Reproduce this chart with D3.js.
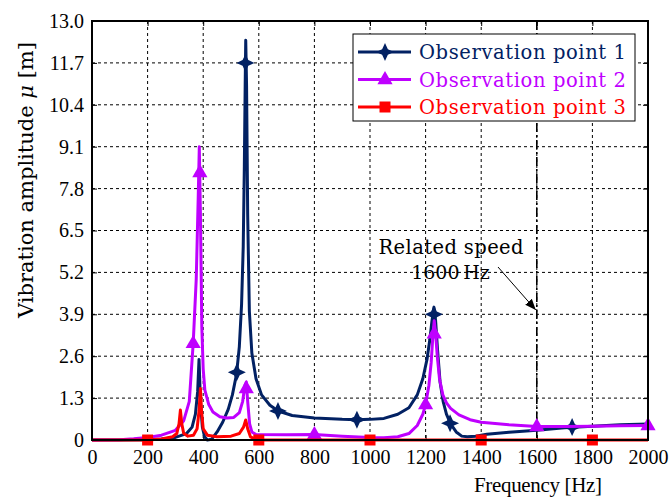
<!DOCTYPE html>
<html><head><meta charset="utf-8">
<script src="https://cdn.jsdelivr.net/npm/d3@7"></script>
<style>body{margin:0;background:#fff}svg{display:block}text{font-family:"Liberation Serif","Times New Roman",serif}.dv{font-family:"DejaVu Serif",serif}</style>
</head><body><svg id="c" width="672" height="498"></svg>
<script>
const xTicks = [0,200,400,600,800,1000,1200,1400,1600,1800,2000];
const yTicks = [0,1.3,2.6,3.9,5.2,6.5,7.8,9.1,10.4,11.7,13.0];
const yTickLabels = ["0","1.3","2.6","3.9","5.2","6.5","7.8","9.1","10.4","11.7","13.0"];
const seriesNames = ["Observation point 1","Observation point 2","Observation point 3"];
const seriesColors = ["#022163","#bf00ff","#ff0000"];

const freq1 = [0,100,200,250,300,340,360,372,380,385,390,397,405,415,430,450,470,490,505,520,530,538,544,548,551,553,556,560,566,575,590,610,640,670,720,800,900,953,1000,1050,1100,1140,1170,1190,1205,1215,1223,1230,1236,1243,1252,1263,1275,1290,1310,1330,1350,1380,1420,1500,1600,1700,1800,1900,2000];
const amp1  = [0,0,0.01,0.03,0.08,0.2,0.4,0.8,1.5,2.5,1.2,0.4,0.1,0.0,0.02,0.25,0.55,0.95,1.4,2.05,2.9,4.2,6.0,8.5,11.0,12.4,11.0,7.0,4.0,2.7,1.9,1.4,1.08,0.9,0.76,0.68,0.64,0.63,0.64,0.67,0.8,1.0,1.4,1.9,2.5,3.1,3.7,4.12,3.7,2.8,1.8,1.2,0.8,0.5,0.25,0.12,0.1,0.12,0.18,0.24,0.3,0.38,0.43,0.47,0.5];
const mark1F = [521,552,669,953,1230,1288,1727];
const mark1A = [2.1,11.7,0.9,0.63,3.9,0.52,0.4];

const freq2 = [0,100,150,200,250,300,330,350,364,375,382,386,390,395,400,406,420,435,460,485,510,530,542,550,555,560,567,575,590,700,800,900,1000,1050,1100,1140,1170,1190,1200,1212,1220,1226,1231,1236,1242,1250,1262,1275,1290,1320,1360,1400,1500,1600,1700,1800,1900,2000];
const amp2  = [0,0.01,0.04,0.08,0.15,0.3,0.6,1.2,3.0,5.0,7.5,9.1,7.0,3.5,2.2,1.55,1.1,0.87,0.72,0.68,0.7,0.85,1.2,1.7,1.8,1.2,0.5,0.25,0.17,0.16,0.17,0.12,0.08,0.07,0.1,0.2,0.45,0.8,1.1,1.7,2.4,3.2,3.7,3.3,2.6,1.9,1.4,1.15,0.98,0.78,0.63,0.55,0.47,0.42,0.42,0.43,0.44,0.45];
const mark2F = [364,388,555,800,1200,1231,1600,2000];
const mark2A = [3.0,8.3,1.6,0.17,1.1,3.3,0.42,0.45];

const freq3 = [0,200,250,290,305,313,318,323,330,345,365,378,385,390,394,400,415,450,500,530,545,553,560,570,590,600,2000];
const amp3  = [0,0,0.03,0.1,0.2,0.5,0.93,0.5,0.2,0.12,0.15,0.35,0.9,1.6,0.9,0.35,0.15,0.1,0.12,0.2,0.4,0.62,0.35,0.1,0.02,0,0];
const mark3F = [200,600,1000,1400,1800];
const mark3A = [0,0,0,0,0];

const L=92,R=648,T=21,B=440;
const svg=d3.select("#c");
const x=d3.scaleLinear().domain([0,2000]).range([L,R]);
const y=d3.scaleLinear().domain([0,13]).range([B,T]);

// grid
const g=svg.append("g");
g.selectAll(".gx").data(xTicks.slice(1,-1)).join("line").attr("x1",d=>x(d)).attr("x2",d=>x(d)).attr("y1",T).attr("y2",B)
 .attr("stroke","#000").attr("stroke-width",1).attr("stroke-dasharray","3,3");
g.selectAll(".gy").data(yTicks.slice(1,-1)).join("line").attr("y1",d=>y(d)).attr("y2",d=>y(d)).attr("x1",L).attr("x2",R)
 .attr("stroke","#000").attr("stroke-width",1).attr("stroke-dasharray","3,3");

// 1600 Hz dash-dot line
svg.append("line").attr("x1",x(1600)).attr("x2",x(1600)).attr("y1",T).attr("y2",B)
 .attr("stroke","#000").attr("stroke-width",1.6).attr("stroke-dasharray","9,3,2,3");

// axes (ticks inward)
const xa=svg.append("g").attr("transform",`translate(0,${B})`).call(d3.axisBottom(x).tickValues(xTicks).tickSizeInner(-5).tickSizeOuter(0).tickPadding(10).tickFormat(d3.format("d")));
const xa2=svg.append("g").attr("transform",`translate(0,${T})`).call(d3.axisTop(x).tickValues(xTicks).tickSizeInner(-5).tickSizeOuter(0).tickFormat(""));
const ya=svg.append("g").attr("transform",`translate(${L},0)`).call(d3.axisLeft(y).tickValues(yTicks).tickSizeInner(-5).tickSizeOuter(0).tickPadding(8).tickFormat((d,i)=>yTickLabels[i]));
const ya2=svg.append("g").attr("transform",`translate(${R},0)`).call(d3.axisRight(y).tickValues(yTicks).tickSizeInner(-5).tickSizeOuter(0).tickFormat(""));
[xa,xa2,ya,ya2].forEach(a=>{a.select(".domain").remove();a.selectAll("line").attr("stroke","#000").attr("stroke-width",1);
 a.selectAll("text").attr("font-size",20).attr("fill","#000").style("font-family","Liberation Serif");});
xa.selectAll("text").attr("dy","0.71em");

// curves
const line=d3.line().x(d=>x(d[0])).y(d=>y(d[1]));
const sets=[[freq1,amp1],[freq2,amp2],[freq3,amp3]];
const marks=[[mark1F,mark1A],[mark2F,mark2A],[mark3F,mark3A]];
function star(s,r){const R0=r,Ri=r*0.45;let p=[];for(let i=0;i<8;i++){const a=-Math.PI/2+i*Math.PI/4;const rr=i%2?Ri:R0;p.push([s[0]+rr*Math.cos(a),s[1]+rr*Math.sin(a)]);}return "M"+p.map(q=>q.join(",")).join("L")+"Z";}
function tri(c,r){return `M${c[0]},${c[1]-r*1.05}L${c[0]+r*0.95},${c[1]+r*0.6}L${c[0]-r*0.95},${c[1]+r*0.6}Z`;}
function sq(c,r){return `M${c[0]-r},${c[1]-r}h${2*r}v${2*r}h${-2*r}Z`;}
const markFn=[(c)=>star(c,9),(c)=>tri(c,8),(c)=>sq(c,5.5)];
sets.forEach((s,i)=>{
 const pts=s[0].map((f,j)=>[f,s[1][j]]);
 const gg=svg.append("g");
 gg.append("path").attr("d",line(pts)).attr("fill","none").attr("stroke",seriesColors[i]).attr("stroke-width",3).attr("stroke-linejoin","round");
 const m=marks[i][0].map((f,j)=>[x(f),y(marks[i][1][j])]);
 gg.selectAll("path.m").data(m).join("path").attr("class","m").attr("d",markFn[i]).attr("fill",seriesColors[i]);
});

// frame
svg.append("rect").attr("x",L).attr("y",T).attr("width",R-L).attr("height",B-T).attr("fill","none").attr("stroke","#000").attr("stroke-width",2);

// axis titles
svg.append("text").attr("x",538).attr("y",492).attr("text-anchor","middle").attr("font-size",21).attr("textLength",128).attr("lengthAdjust","spacing").text("Frequency [Hz]");
const yt=svg.append("text").attr("class","dv").attr("transform","translate(33,180) rotate(-90)").attr("text-anchor","middle").attr("font-size",21);
yt.append("tspan").text("Vibration amplitude ");
yt.append("tspan").attr("font-style","italic").text("μ");
yt.append("tspan").text(" [m]");

// annotation
svg.append("text").attr("class","dv").attr("x",451).attr("y",254).attr("text-anchor","middle").attr("font-size",19.5).attr("textLength",145).attr("lengthAdjust","spacing").text("Related speed");
svg.append("text").attr("class","dv").attr("x",450.5).attr("y",279).attr("text-anchor","middle").attr("font-size",19).text("1600\u2009Hz");
svg.append("defs").append("marker").attr("id","ah").attr("viewBox","0 0 10 10").attr("refX",10).attr("refY",5)
 .attr("markerWidth",11).attr("markerHeight",11).attr("markerUnits","userSpaceOnUse").attr("orient","auto")
 .append("path").attr("d","M0,1L10,5L0,9Z").attr("fill","#000");
svg.append("line").attr("x1",498).attr("y1",267).attr("x2",x(1600)-1).attr("y2",310).attr("stroke","#000").attr("stroke-width",1).attr("marker-end","url(#ah)");

// legend
const lg=svg.append("g");
lg.append("rect").attr("x",353).attr("y",34).attr("width",282).attr("height",87).attr("fill","#fff").attr("stroke","#000").attr("stroke-width",1);
seriesNames.forEach((n,i)=>{
 const cy=52+i*27.5;
 lg.append("line").attr("x1",358).attr("x2",411).attr("y1",cy).attr("y2",cy).attr("stroke",seriesColors[i]).attr("stroke-width",3);
 lg.append("path").attr("d",markFn[i]([385,cy])).attr("fill",seriesColors[i]);
 lg.append("text").attr("class","dv").attr("x",419).attr("y",cy+7).attr("font-size",19.5).attr("fill",seriesColors[i]).attr("textLength",207).attr("lengthAdjust","spacing").text(n);
});
</script></body></html>
